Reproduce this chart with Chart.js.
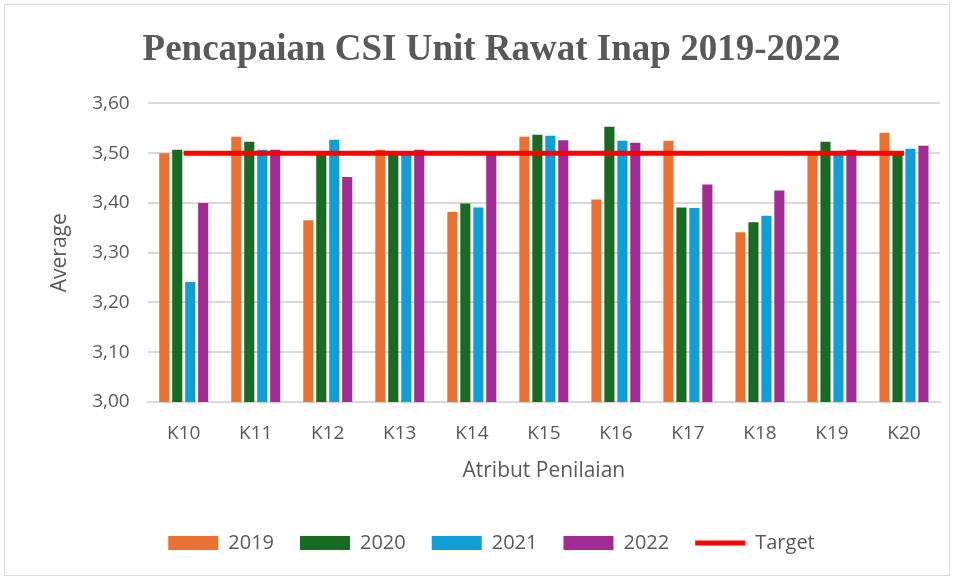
<!DOCTYPE html>
<html>
<head>
<meta charset="utf-8">
<script src="https://cdn.jsdelivr.net/npm/chart.js@4/dist/chart.umd.min.js"></script>
<style>
  html, body { margin: 0; padding: 0; background: #fff; }
  #wrap { position: absolute; left: 4px; top: 4px; width: 946px; height: 572px; border: 1px solid #d9d9d9; box-sizing: border-box; }
  #chart { position: absolute; left: 0; top: 0; }
</style>
</head>
<body>
<div id="wrap"><canvas id="chart" width="944" height="570"></canvas></div>
<script>
// data
const categories = ['K10', 'K11', 'K12', 'K13', 'K14', 'K15', 'K16', 'K17', 'K18', 'K19', 'K20'];
const years = ['2019', '2020', '2021', '2022'];
const v2019 = [3.500, 3.533, 3.365, 3.507, 3.382, 3.533, 3.407, 3.525, 3.341, 3.499, 3.541];
const v2020 = [3.507, 3.523, 3.497, 3.499, 3.399, 3.537, 3.553, 3.391, 3.361, 3.523, 3.497];
const v2021 = [3.241, 3.507, 3.527, 3.499, 3.391, 3.535, 3.525, 3.390, 3.374, 3.499, 3.509];
const v2022 = [3.400, 3.507, 3.452, 3.507, 3.497, 3.526, 3.521, 3.437, 3.425, 3.507, 3.515];
const target = [3.5, 3.5, 3.5, 3.5, 3.5, 3.5, 3.5, 3.5, 3.5, 3.5, 3.5];
const yTicks = [3.0, 3.1, 3.2, 3.3, 3.4, 3.5, 3.6];

const colors = ['#E97132', '#196B24', '#0F9ED5', '#A02B93'];
const grey = '#595959';
const sans = 'Open Sans';

function barSet(label, data, color) {
    return {
        type: 'bar',
        label: label,
        data: data,
        backgroundColor: color,
        borderWidth: 0,
        categoryPercentage: 0.72,
        barPercentage: 0.78,
        order: 1
    };
}

let ctx = document.getElementById('chart').getContext('2d');

new Chart(ctx, {
    data: {
        labels: categories,
        datasets: [
            barSet(years[0], v2019, colors[0]),
            barSet(years[1], v2020, colors[1]),
            barSet(years[2], v2021, colors[2]),
            barSet(years[3], v2022, colors[3]),
            {
                type: 'line',
                label: 'Target',
                data: target,
                borderColor: '#FF0000',
                backgroundColor: '#FF0000',
                borderWidth: 5,
                pointRadius: 0,
                order: 0
            }
        ]
    },
    options: {
        responsive: false,
        animation: false,
        layout: { padding: { left: 38, right: 9, top: 12, bottom: 12 } },
        plugins: {
            title: {
                display: true,
                text: 'Pencapaian CSI Unit Rawat Inap 2019-2022',
                color: grey,
                font: { family: 'Liberation Serif', size: 37, weight: 'bold' },
                padding: { top: 11, bottom: 31 }
            },
            legend: {
                position: 'bottom',
                labels: {
                    usePointStyle: true,
                    pointStyleWidth: 50,
                    boxHeight: 14,
                    padding: 26,
                    color: grey,
                    font: { family: sans, size: 20 },
                    generateLabels: function (chart) {
                        let items = Chart.defaults.plugins.legend.labels.generateLabels(chart);
                        items.forEach(function (it) {
                            it.pointStyle = it.datasetIndex === 4 ? 'line' : 'rect';
                        });
                        return items.sort(function (a, b) { return a.datasetIndex - b.datasetIndex; });
                    }
                }
            },
            tooltip: { enabled: false }
        },
        scales: {
            x: {
                grid: { display: false },
                border: { color: '#d9d9d9', width: 2 },
                ticks: { color: grey, font: { family: sans, size: 19 }, padding: 12 },
                title: {
                    display: true,
                    text: 'Atribut Penilaian',
                    color: grey,
                    font: { family: sans, size: 21 },
                    padding: { top: 2, bottom: 23 }
                }
            },
            y: {
                min: yTicks[0],
                max: yTicks[yTicks.length - 1],
                afterBuildTicks: function (axis) {
                    axis.ticks = yTicks.map(function (v) { return { value: v }; });
                },
                grid: { color: '#d9d9d9', lineWidth: 2, drawTicks: false },
                border: { display: false },
                ticks: {
                    color: grey,
                    font: { family: sans, size: 19 },
                    padding: 18,
                    callback: function (v) { return v.toFixed(2).replace('.', ','); }
                },
                title: {
                    display: true,
                    text: 'Average',
                    color: grey,
                    font: { family: sans, size: 21 },
                    padding: { bottom: 2 }
                }
            }
        }
    }
});
</script>
</body>
</html>
